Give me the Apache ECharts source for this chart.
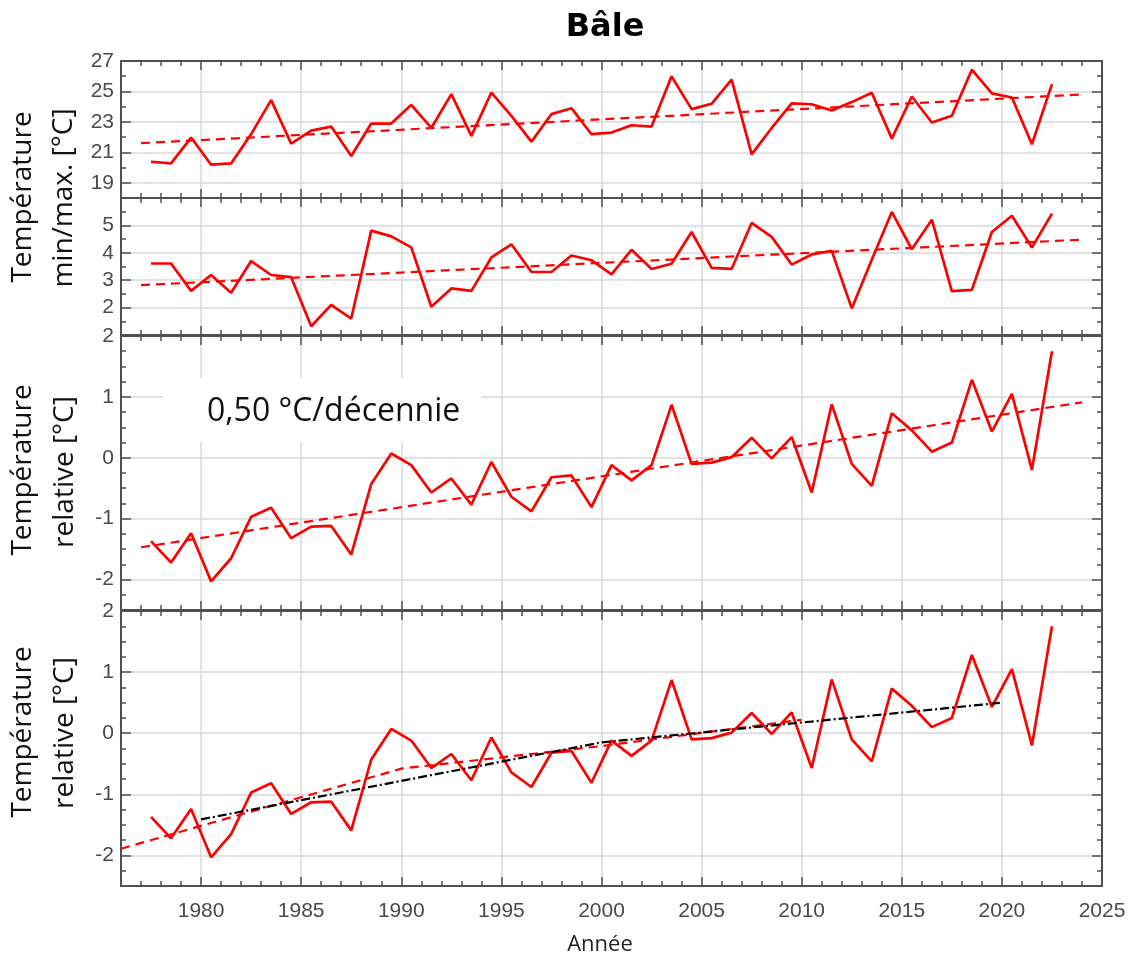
<!DOCTYPE html>
<html>
<head>
<meta charset="utf-8">
<title>Bâle</title>
<script src="https://cdn.jsdelivr.net/npm/echarts@6/dist/echarts.min.js"></script>
<style>
html, body { margin: 0; padding: 0; background: #fff; }
#main { width: 1129px; height: 959px; }
</style>
</head>
<body>
<div id="main"></div>
<script>
// années (points placés au milieu de l'année)
var years = [1977, 1978, 1979, 1980, 1981, 1982, 1983, 1984, 1985, 1986,
	1987, 1988, 1989, 1990, 1991, 1992, 1993, 1994, 1995, 1996,
	1997, 1998, 1999, 2000, 2001, 2002, 2003, 2004, 2005, 2006,
	2007, 2008, 2009, 2010, 2011, 2012, 2013, 2014, 2015, 2016,
	2017, 2018, 2019, 2020, 2021, 2022];

// panneau 1 : température max
var tMax = [20.38, 20.27, 21.97, 20.19, 20.27, 22.2, 24.43, 21.57, 22.43, 22.69,
	20.76, 22.89, 22.89, 24.12, 22.60, 24.82, 22.08, 24.93, 23.4, 21.70,
	23.51, 23.90, 22.19, 22.30, 22.78, 22.69, 25.99, 23.84, 24.19, 25.77,
	20.87, 22.6, 24.21, 24.16, 23.75, 24.3, 24.91, 21.90, 24.67, 22.96,
	23.40, 26.43, 24.87, 24.60, 21.53, 25.48];

// panneau 2 : température min
var tMin = [3.61, 3.61, 2.61, 3.19, 2.54, 3.70, 3.19, 3.11, 1.32, 2.10,
	1.60, 4.81, 4.60, 4.20, 2.03, 2.70, 2.61, 3.83, 4.31, 3.30,
	3.30, 3.90, 3.73, 3.21, 4.11, 3.41, 3.60, 4.76, 3.45, 3.41,
	5.09, 4.58, 3.57, 3.94, 4.07, 1.97, 3.75, 5.49, 4.13, 5.21,
	2.60, 2.65, 4.76, 5.35, 4.19, 5.43];

// panneaux 3 et 4 : température relative
var tRel = [-1.37, -1.72, -1.24, -2.03, -1.65, -0.97, -0.82, -1.32, -1.13, -1.12,
	-1.59, -0.43, 0.07, -0.12, -0.57, -0.34, -0.77, -0.07, -0.64, -0.88,
	-0.32, -0.29, -0.81, -0.12, -0.37, -0.12, 0.87, -0.10, -0.08, 0.01,
	0.33, -0.01, 0.34, -0.57, 0.88, -0.10, -0.46, 0.73, 0.45, 0.10,
	0.25, 1.28, 0.43, 1.05, -0.20, 1.75];

// tendances
var trendMaxYears = [1977, 2024];
var trendMaxVals = [21.6, 24.8];
var trendMinYears = [1977, 2024];
var trendMinVals = [2.82, 4.48];
var trendRelYears = [1977, 2024];
var trendRelVals = [-1.47, 0.91];
var segRedYears = [1976, 1990, 2000, 2010];
var segRedVals = [-1.89, -0.58, -0.21, 0.22];
var segBlackYears = [1980, 2000, 2020];
var segBlackVals = [-1.41, -0.15, 0.50];

// graduations
var xMajor = [1980, 1985, 1990, 1995, 2000, 2005, 2010, 2015, 2020, 2025];
var xLabels = [1980, 1985, 1990, 1995, 2000, 2005, 2010, 2015, 2020, 2025];
var xMinor = [];
for(var y = 1977; y < 2025; y++) {
	if(y % 5 !== 0) xMinor.push(y);
}
var yMajor1 = [19, 21, 23, 25, 27];
var yMinor1 = [18, 20, 22, 24, 26];
var yMajor2 = [2, 3, 4, 5];
var yMinor2 = [1.5, 2.5, 3.5, 4.5, 5.5];
var yMajorRel = [-2, -1, 0, 1, 2];
var yMinorRel = [-2.25, -1.75, -1.5, -1.25, -0.75, -0.5, -0.25, 0.25, 0.5, 0.75, 1.25, 1.5, 1.75];

var frameColor = '#505050';
var gridColor = '#d9d9d9';
var tickFont = '"Liberation Sans", Arial, sans-serif';
var textFont = '"Open Sans", sans-serif';

var panels = [
	{ top: 61, height: 137, min: 18, max: 27, major: yMajor1, minor: yMinor1 },
	{ top: 198, height: 137, min: 1, max: 6, major: yMajor2, minor: yMinor2 },
	{ top: 336, height: 274, min: -2.5, max: 2, major: yMajorRel, minor: yMinorRel },
	{ top: 611, height: 275, min: -2.5, max: 2, major: yMajorRel, minor: yMinorRel }
];

var xAxisFor = function(g, pos, main) {
	var withLabels = main && pos === 'bottom' && g === 3;
	return {
		type: 'value',
		gridIndex: g,
		position: pos,
		min: 1976,
		max: 2025,
		axisLine: { show: main, onZero: false, lineStyle: { color: frameColor, width: 2 } },
		axisTick: { show: true, inside: true, length: main ? 9 : 5, customValues: main ? xMajor : xMinor,
			lineStyle: { color: frameColor, width: 1.5 } },
		axisLabel: withLabels ? {
			show: true, customValues: xLabels, margin: 15, color: '#4a4a4a', fontSize: 21, fontFamily: tickFont,
			formatter: function(v) { return String(v); }
		} : { show: false },
		splitLine: { show: main && pos === 'bottom', lineStyle: { color: gridColor, width: 1.5 } }
	};
};

var yAxisFor = function(g, pos, main) {
	var p = panels[g];
	var withLabels = main && pos === 'left';
	return {
		type: 'value',
		gridIndex: g,
		position: pos,
		min: p.min,
		max: p.max,
		axisLine: { show: main, onZero: false, lineStyle: { color: frameColor, width: 2 } },
		axisTick: { show: true, inside: true, length: main ? 10 : 5, customValues: main ? p.major : p.minor,
			lineStyle: { color: frameColor, width: 1.5 } },
		axisLabel: withLabels ? {
			show: true, customValues: p.major, margin: 7, color: '#4a4a4a', fontSize: 21, fontFamily: tickFont,
			formatter: function(v) { return String(v); }
		} : { show: false },
		splitLine: { show: main && pos === 'left', lineStyle: { color: gridColor, width: 1.5 } }
	};
};

var grids = [], xAxes = [], yAxes = [];
for(var g = 0; g < panels.length; g++) {
	grids.push({ left: 121, width: 981, top: panels[g].top, height: panels[g].height });
	xAxes.push(xAxisFor(g, 'bottom', true), xAxisFor(g, 'bottom', false), xAxisFor(g, 'top', true), xAxisFor(g, 'top', false));
	yAxes.push(yAxisFor(g, 'left', true), yAxisFor(g, 'left', false), yAxisFor(g, 'right', true), yAxisFor(g, 'right', false));
}

var pts = function(xs, vs, shift) {
	return xs.map(function(x, i) { return [x + shift, vs[i]]; });
};

var lineSeries = function(g, data, color, width, type, z) {
	return {
		type: 'line',
		xAxisIndex: g * 4,
		yAxisIndex: g * 4,
		data: data,
		symbol: 'none',
		silent: true,
		z: z,
		lineStyle: { color: color, width: width, type: type }
	};
};

var series = [
	lineSeries(0, pts(years, tMax, 0.5), '#ff0000', 2.7, 'solid', 3),
	lineSeries(0, pts(trendMaxYears, trendMaxVals, 0), '#ff0000', 2.2, [9, 6], 4),
	lineSeries(1, pts(years, tMin, 0.5), '#ff0000', 2.7, 'solid', 3),
	lineSeries(1, pts(trendMinYears, trendMinVals, 0), '#ff0000', 2.2, [9, 6], 4),
	lineSeries(2, pts(years, tRel, 0.5), '#ff0000', 2.7, 'solid', 3),
	lineSeries(2, pts(trendRelYears, trendRelVals, 0), '#ff0000', 2.2, [9, 6], 4),
	lineSeries(3, pts(years, tRel, 0.5), '#ff0000', 2.7, 'solid', 3),
	lineSeries(3, pts(segRedYears, segRedVals, 0), '#ff0000', 2.2, [9, 6], 4),
	lineSeries(3, pts(segBlackYears, segBlackVals, 0), '#000000', 2.2, [9, 3, 2, 3], 5)
];

var vText = function(x, y, text) {
	return {
		type: 'text', x: x, y: y, rotation: Math.PI / 2,
		style: { text: text, font: '28px ' + textFont, fill: '#111', align: 'center', verticalAlign: 'middle' }
	};
};

var chart = echarts.init(document.getElementById('main'));
chart.setOption({
	animation: false,
	backgroundColor: '#fff',
	grid: grids,
	xAxis: xAxes,
	yAxis: yAxes,
	series: series,
	graphic: [
		{ type: 'text', x: 605, y: 28, style: { text: 'Bâle', font: 'bold 32px "DejaVu Sans", sans-serif', fill: '#000', align: 'center', verticalAlign: 'middle' } },
		vText(23, 197, 'Température'),
		vText(64, 198, 'min/max. [°C]'),
		vText(23, 470, 'Température'),
		vText(65, 472, 'relative [°C]'),
		vText(23, 732, 'Température'),
		vText(65, 733, 'relative [°C]'),
		{ type: 'rect', z: 10, shape: { x: 163, y: 378, width: 318, height: 64 }, style: { fill: '#fff' } },
		{ type: 'text', z: 11, x: 207, y: 412, style: { text: '0,50 °C/décennie', font: '32px ' + textFont, fill: '#111', align: 'left', verticalAlign: 'middle' } },
		{ type: 'text', x: 600, y: 945, style: { text: 'Année', font: '22px ' + textFont, fill: '#222', align: 'center', verticalAlign: 'middle' } }
	]
});
</script>
</body>
</html>
